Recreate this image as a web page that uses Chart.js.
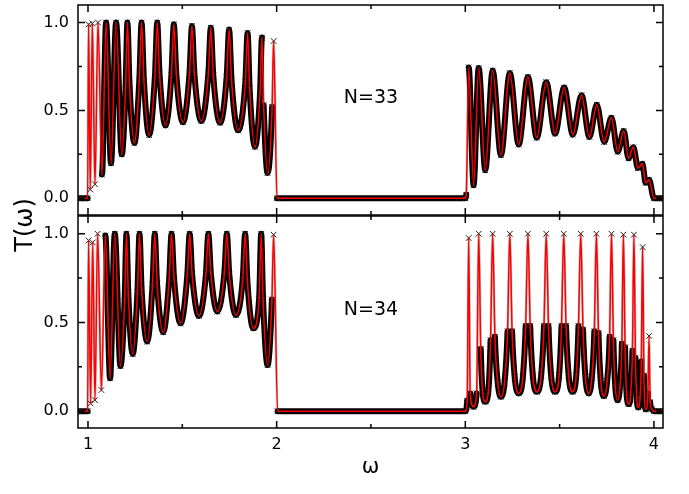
<!DOCTYPE html>
<html>
<head>
<meta charset="utf-8">
<script src="https://cdn.jsdelivr.net/npm/chart.js@4.4.0/dist/chart.umd.min.js"></script>
<style>
  html, body { margin: 0; padding: 0; background: #fff; }
  #wrap { position: relative; width: 689px; height: 494px; }
  canvas { position: absolute; left: 0; top: 0; }
</style>
</head>
<body>
<div id="wrap">
  <canvas id="chart34" width="689" height="494"></canvas>
  <canvas id="chart33" width="689" height="222"></canvas>
</div>
<script>
// N=33 spectrum: peaks, half-height shoulders and dips
const omega33 = [
  0.947, 0.998, 1.003, 1.012, 1.023, 1.037, 1.053, 1.074, 1.096, 1.122,
  1.149, 1.179, 1.199, 1.209, 1.220, 1.246, 1.272, 1.284, 1.296, 1.324,
  1.355, 1.367, 1.379, 1.411, 1.442, 1.455, 1.468, 1.503, 1.538, 1.551,
  1.564, 1.601, 1.638, 1.651, 1.664, 1.700, 1.735, 1.748, 1.761, 1.796,
  1.834, 1.846, 1.857, 1.885, 1.912, 1.922, 1.931, 1.952, 1.976, 1.984,
  2.002, 3.000,
  3.005, 3.018, 3.044, 3.071, 3.106, 3.145, 3.189, 3.236, 3.283, 3.332,
  3.379, 3.429, 3.476, 3.524, 3.570, 3.616, 3.658, 3.697, 3.736, 3.775,
  3.808, 3.840, 3.865, 3.891, 3.915, 3.939, 3.956, 3.974, 4.000, 4.048
];
const trans33 = [
  0, 0, 0.99, 0.05, 0.995, 0.08, 1.0, 0.135, 1.0, 0.2,
  1.0, 0.25, 0.62, 1.0, 0.65, 0.315, 0.67, 1.0, 0.68, 0.36,
  0.70, 1.0, 0.71, 0.415, 0.70, 0.99, 0.71, 0.433, 0.71, 0.98,
  0.71, 0.44, 0.71, 0.97, 0.70, 0.43, 0.69, 0.96, 0.67, 0.387,
  0.66, 0.94, 0.62, 0.293, 0.60, 0.915, 0.53, 0.144, 0.52, 0.895,
  0, 0,
  0.02, 0.745, 0.075, 0.741, 0.16, 0.727, 0.246, 0.713, 0.306, 0.69,
  0.345, 0.661, 0.368, 0.63, 0.362, 0.587, 0.349, 0.532, 0.321, 0.458,
  0.265, 0.383, 0.228, 0.29, 0.172, 0.196, 0.088, 0.106, 0, 0
];

// N=34 spectrum: lower panel (upper band has narrow spikes, so shoulders are listed too)
const omega34 = [
  0.947, 0.998, 1.003, 1.014, 1.025, 1.037, 1.051, 1.071, 1.092, 1.117,
  1.142, 1.172, 1.194, 1.204, 1.214, 1.237, 1.262, 1.273, 1.284, 1.314,
  1.342, 1.354, 1.366, 1.399, 1.430, 1.443, 1.456, 1.491, 1.526, 1.539,
  1.552, 1.588, 1.625, 1.638, 1.651, 1.686, 1.723, 1.736, 1.749, 1.784,
  1.820, 1.833, 1.845, 1.876, 1.907, 1.918, 1.928, 1.952, 1.975, 1.984,
  2.005, 3.000,
  3.010, 3.018, 3.026, 3.044, 3.060, 3.071, 3.082, 3.092, 3.106, 3.122,
  3.134, 3.145, 3.157, 3.172, 3.189, 3.208, 3.224, 3.236, 3.248, 3.262,
  3.283, 3.305, 3.320, 3.332, 3.344, 3.358, 3.379, 3.402, 3.417, 3.429,
  3.441, 3.455, 3.476, 3.497, 3.510, 3.522, 3.534, 3.548, 3.568, 3.588,
  3.600, 3.612, 3.624, 3.637, 3.654, 3.671, 3.684, 3.695, 3.706, 3.718,
  3.735, 3.752, 3.765, 3.775, 3.785, 3.795, 3.807, 3.820, 3.830, 3.838,
  3.847, 3.855, 3.866, 3.877, 3.886, 3.894, 3.902, 3.909, 3.917, 3.926,
  3.933, 3.940, 3.947, 3.957, 3.968, 3.974, 3.980, 3.990, 4.000, 4.048
];
const trans34 = [
  0, 0, 0.962, 0.043, 0.951, 0.062, 1.0, 0.119, 0.99, 0.185,
  1.0, 0.254, 0.62, 1.0, 0.65, 0.322, 0.67, 1.0, 0.69, 0.392,
  0.71, 1.0, 0.72, 0.445, 0.74, 1.0, 0.75, 0.495, 0.76, 1.0,
  0.77, 0.537, 0.77, 1.0, 0.78, 0.561, 0.78, 1.0, 0.77, 0.542,
  0.74, 1.0, 0.73, 0.467, 0.63, 1.0, 0.63, 0.26, 0.63, 0.995,
  0, 0,
  0.06, 0.976, 0.10, 0.025, 0.10, 1.0, 0.35, 0.11, 0.053, 0.11,
  0.40, 1.0, 0.42, 0.16, 0.081, 0.16, 0.45, 1.0, 0.45, 0.19,
  0.10, 0.19, 0.48, 1.0, 0.48, 0.20, 0.109, 0.20, 0.48, 1.0,
  0.48, 0.20, 0.109, 0.20, 0.48, 1.0, 0.48, 0.20, 0.109, 0.20,
  0.48, 1.0, 0.46, 0.19, 0.10, 0.19, 0.45, 1.0, 0.44, 0.17,
  0.085, 0.17, 0.42, 1.0, 0.40, 0.14, 0.062, 0.14, 0.38, 0.995,
  0.36, 0.10, 0.04, 0.10, 0.34, 0.995, 0.30, 0.07, 0.021, 0.07,
  0.28, 0.925, 0.20, 0.01, 0.10, 0.424, 0.05, 0.01, 0, 0
];

// axis ticks
const xMajor = [1, 2, 3, 4];
const xMinor = [1.5, 2.5, 3.5];
const yMajor = [0, 0.5, 1.0];
const yMinor = [0.25, 0.75];

const FONT = "'DejaVu Sans', 'Liberation Sans', sans-serif";

function toPoints(xs, ys) {
    return xs.map((v, i) => ({ x: v, y: ys[i] }));
}

// steep parts of the curve only carry a few crosses in the original;
// slope is taken from the data (dT per unit of omega)
function isSteep(c) {
    const data = c.chart.data.datasets[c.datasetIndex].data;
    const a = data[c.p0DataIndex], b = data[c.p1DataIndex];
    const dx = Math.abs(b.x - a.x);
    const dy = Math.abs(b.y - a.y);
    return dy > 40 * dx;
}

// boxed frame with inward major/minor ticks on all four sides
const frameTicks = {
    id: 'frameTicks',
    afterDatasetsDraw(chart) {
        const { ctx, chartArea: a, scales: { x, y } } = chart;
        ctx.save();
        ctx.strokeStyle = '#000';
        ctx.lineWidth = 1.5;
        ctx.strokeRect(a.left, a.top, a.right - a.left, a.bottom - a.top);
        ctx.beginPath();
        const xt = (v, len) => {
            const p = x.getPixelForValue(v);
            ctx.moveTo(p, a.top); ctx.lineTo(p, a.top + len);
            ctx.moveTo(p, a.bottom); ctx.lineTo(p, a.bottom - len);
        };
        const yt = (v, len) => {
            const p = y.getPixelForValue(v);
            ctx.moveTo(a.left, p); ctx.lineTo(a.left + len, p);
            ctx.moveTo(a.right, p); ctx.lineTo(a.right - len, p);
        };
        xMajor.forEach(v => xt(v, 7));
        xMinor.forEach(v => xt(v, 4));
        yMajor.forEach(v => yt(v, 7));
        yMinor.forEach(v => yt(v, 4));
        ctx.stroke();
        ctx.restore();
    }
};

// text inside a panel (N=...) and the shared T(ω) label
const panelText = {
    id: 'panelText',
    afterDraw(chart, args, opts) {
        const { ctx, scales: { x, y } } = chart;
        ctx.save();
        ctx.fillStyle = '#000';
        ctx.textAlign = 'center';
        ctx.textBaseline = 'middle';
        ctx.font = '19px ' + FONT;
        ctx.fillText(opts.label, x.getPixelForValue(opts.at[0]), y.getPixelForValue(opts.at[1]));
        if (opts.yTitle) {
            ctx.translate(26, 225);
            ctx.rotate(-Math.PI / 2);
            ctx.font = '24px ' + FONT;
            ctx.fillText(opts.yTitle, 0, 0);
        }
        ctx.restore();
    }
};

function makePanel(id, omega, trans, label, bottomAxis, padding, yTitle) {
    return new Chart(document.getElementById(id).getContext('2d'), {
        type: 'line',
        data: {
            datasets: [{
                label: 'red',
                data: toPoints(omega, trans),
                borderColor: '#ff0000',
                borderWidth: 1.5,
                pointRadius: 0,
                cubicInterpolationMode: 'monotone'
            }, {
                label: 'black',
                data: toPoints(omega, trans),
                borderColor: '#000',
                borderWidth: 6,
                borderCapStyle: 'round',
                borderJoinStyle: 'round',
                cubicInterpolationMode: 'monotone',
                pointStyle: 'crossRot',
                pointRadius: 4,
                pointBorderWidth: 1,
                pointBorderColor: '#222',
                segment: {
                    borderWidth: c => isSteep(c) ? 2.5 : 6,
                    borderColor: c => isSteep(c) ? 'rgba(0,0,0,0.22)' : '#000'
                }
            }]
        },
        options: {
            responsive: false,
            animation: false,
            layout: { padding: padding },
            plugins: {
                legend: { display: false },
                tooltip: { enabled: false },
                panelText: { label: label, at: [2.5, 0.57], yTitle: yTitle }
            },
            scales: {
                x: {
                    type: 'linear',
                    min: 0.947,
                    max: 4.048,
                    display: bottomAxis,
                    afterBuildTicks: s => { s.ticks = xMajor.map(v => ({ value: v })); },
                    afterFit: s => {
                        s.height = bottomAxis ? 66 : 0;
                        s.paddingLeft = 0; s.paddingRight = 0;
                    },
                    grid: { display: false, drawTicks: false },
                    border: { display: false },
                    ticks: {
                        color: '#000',
                        padding: 7,
                        font: { family: FONT, size: 16 },
                        callback: v => String(v)
                    },
                    title: {
                        display: true,
                        text: 'ω',
                        color: '#000',
                        font: { family: FONT, size: 21 },
                        padding: { top: 0, bottom: 14 }
                    }
                },
                y: {
                    type: 'linear',
                    min: -0.095,
                    max: 1.1,
                    afterBuildTicks: s => { s.ticks = yMajor.map(v => ({ value: v })); },
                    afterFit: s => {
                        s.width = 78;
                        s.paddingTop = 0; s.paddingBottom = 0;
                    },
                    grid: { display: false, drawTicks: false },
                    border: { display: false },
                    ticks: {
                        color: '#000',
                        padding: 9,
                        font: { family: FONT, size: 16 },
                        callback: v => v.toFixed(1)
                    }
                }
            }
        },
        plugins: [frameTicks, panelText]
    });
}

// lower panel fills the page (it also carries the x title and T(ω))
makePanel('chart34', omega34, trans34, 'N=34', true,
    { top: 216, right: 26, bottom: 0, left: 0 }, 'T(ω)');
// upper panel sits on top of it
makePanel('chart33', omega33, trans33, 'N=33', false,
    { top: 4, right: 26, bottom: 7, left: 0 }, null);
</script>
</body>
</html>
